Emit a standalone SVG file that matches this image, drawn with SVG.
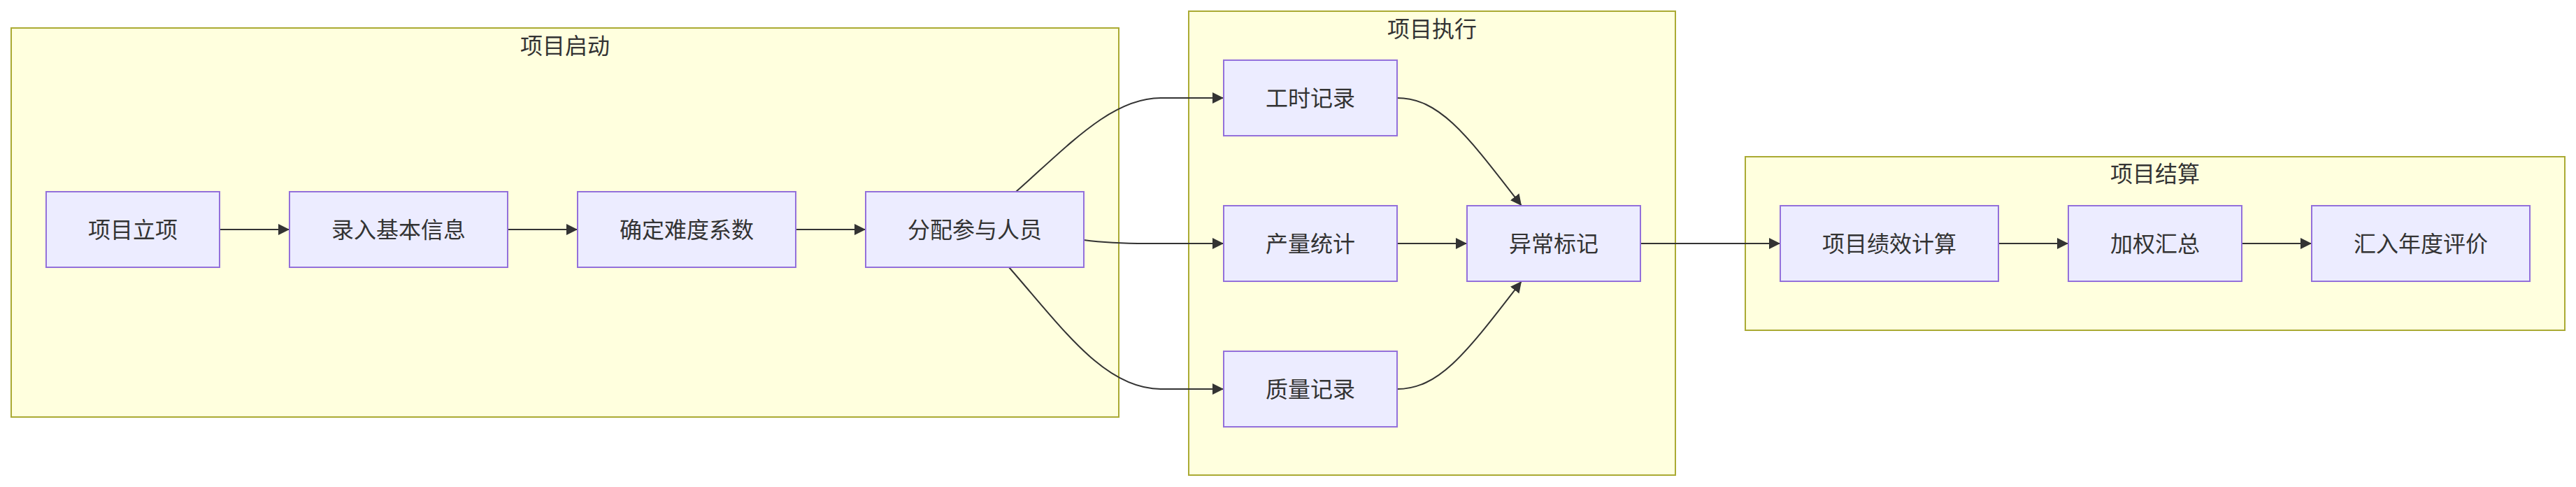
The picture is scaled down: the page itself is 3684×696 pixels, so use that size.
<svg xmlns="http://www.w3.org/2000/svg" width="3684" height="696" viewBox="0 0 3684 696">
<defs>
<style>
.cluster rect{fill:#ffffde;stroke:#aaaa33;stroke-width:2}
.node rect{fill:#ececff;stroke:#9370db;stroke-width:2}
text{font-family:"Noto Sans CJK SC","Noto Sans",sans-serif;font-size:32px;fill:#333333;text-anchor:middle}
.edges path{fill:none;stroke:#333333;stroke-width:2;marker-end:url(#arrow)}
</style>
<marker id="arrow" viewBox="0 0 10 10" refX="10" refY="5" markerWidth="16" markerHeight="16" markerUnits="userSpaceOnUse" orient="auto">
<path d="M0,0 L10,5 L0,10 z" fill="#333333"/>
</marker>
</defs>
<rect width="3684" height="696" fill="#ffffff"/>
<g id="cluster-start" class="cluster">
<rect x="16" y="40" width="1584" height="556"/>
<text x="808" y="77">项目启动</text>
</g>
<g id="cluster-exec" class="cluster">
<rect x="1700" y="16" width="696" height="663"/>
<text x="2048" y="53">项目执行</text>
</g>
<g id="cluster-settle" class="cluster">
<rect x="2496" y="224" width="1172" height="248"/>
<text x="3082" y="260">项目结算</text>
</g>
<g class="edges" id="connectors">
<path d="M314,328 L414,328"/>
<path d="M726,328 L826,328"/>
<path d="M1138,328 L1238,328"/>
<path d="M1453,274 C1530,206 1590,140 1660,140 L1750,140"/>
<path d="M1550,343 C1580,347 1600,348 1640,348 L1750,348"/>
<path d="M1443,382 C1520,470 1580,556 1660,556 L1750,556"/>
<path d="M1998,140 C2060,140 2100,196 2176,294"/>
<path d="M1998,348 L2098,348"/>
<path d="M1998,556 C2060,556 2100,500 2176,402"/>
<path d="M2346,348 L2546,348"/>
<path d="M2858,348 L2958,348"/>
<path d="M3206,348 L3306,348"/>
</g>
<g id="n-lixiang" class="node"><rect x="66" y="274" width="248" height="108"/><text x="190" y="340">项目立项</text></g>
<g id="n-luru" class="node"><rect x="414" y="274" width="312" height="108"/><text x="570" y="340">录入基本信息</text></g>
<g id="n-queding" class="node"><rect x="826" y="274" width="312" height="108"/><text x="982" y="340">确定难度系数</text></g>
<g id="n-fenpei" class="node"><rect x="1238" y="274" width="312" height="108"/><text x="1394" y="340">分配参与人员</text></g>
<g id="n-gongshi" class="node"><rect x="1750" y="86" width="248" height="108"/><text x="1874" y="152">工时记录</text></g>
<g id="n-chanliang" class="node"><rect x="1750" y="294" width="248" height="108"/><text x="1874" y="360">产量统计</text></g>
<g id="n-zhiliang" class="node"><rect x="1750" y="502" width="248" height="108"/><text x="1874" y="568">质量记录</text></g>
<g id="n-yichang" class="node"><rect x="2098" y="294" width="248" height="108"/><text x="2222" y="360">异常标记</text></g>
<g id="n-jixiao" class="node"><rect x="2546" y="294" width="312" height="108"/><text x="2702" y="360">项目绩效计算</text></g>
<g id="n-jiaquan" class="node"><rect x="2958" y="294" width="248" height="108"/><text x="3082" y="360">加权汇总</text></g>
<g id="n-huiru" class="node"><rect x="3306" y="294" width="312" height="108"/><text x="3462" y="360">汇入年度评价</text></g>
</svg>
